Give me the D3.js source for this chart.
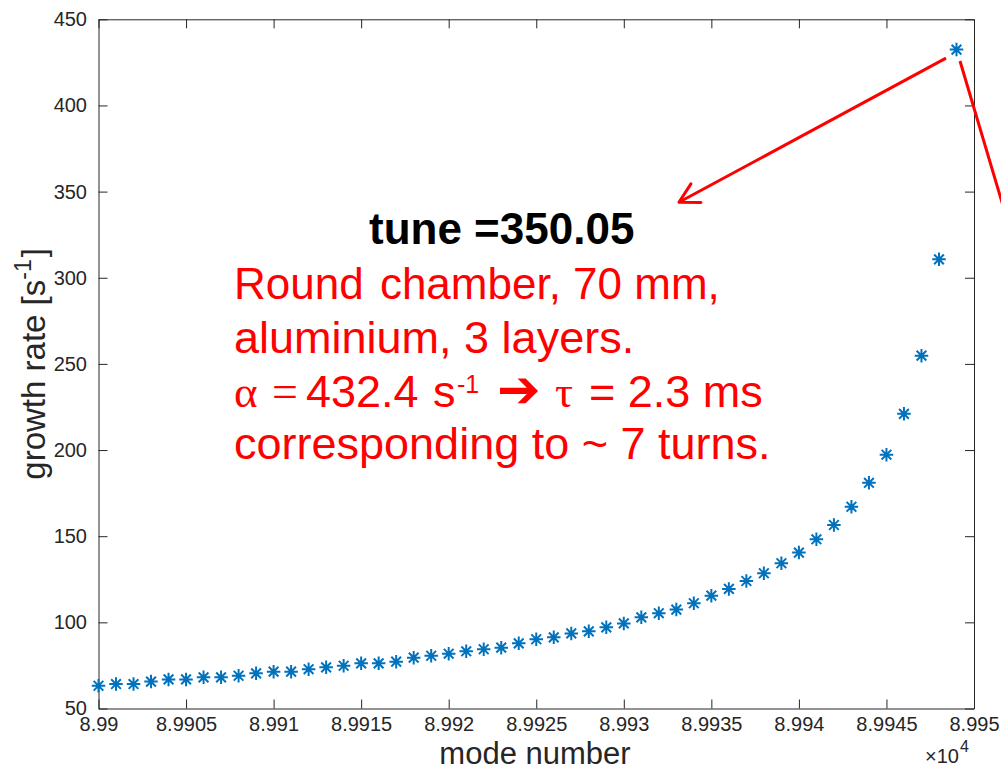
<!DOCTYPE html>
<html>
<head>
<meta charset="utf-8">
<script src="https://cdn.jsdelivr.net/npm/d3@7"></script>
<style>
  html, body { margin: 0; padding: 0; background: #fff; }
  svg { display: block; font-family: "Liberation Sans", Arial, Helvetica, sans-serif; }
</style>
</head>
<body>
<svg id="chart" width="1001" height="771"></svg>
<script>
// Mode numbers of the coupled-bunch modes shown (89900 ... 89949)
const modeNumbers = [
  89900, 89901, 89902, 89903, 89904, 89905, 89906, 89907, 89908, 89909,
  89910, 89911, 89912, 89913, 89914, 89915, 89916, 89917, 89918, 89919,
  89920, 89921, 89922, 89923, 89924, 89925, 89926, 89927, 89928, 89929,
  89930, 89931, 89932, 89933, 89934, 89935, 89936, 89937, 89938, 89939,
  89940, 89941, 89942, 89943, 89944, 89945, 89946, 89947, 89948, 89949
];

// Growth rate of each mode [1/s]
const growthRates = [
  63.2, 64.2, 64.2, 65.6, 66.9, 66.9, 68.1, 68.1, 69.0, 70.4,
  71.4, 71.4, 72.8, 73.9, 74.8, 76.2, 76.2, 77.2, 79.5, 80.6,
  81.8, 83.2, 84.4, 85.3, 87.8, 90.2, 91.3, 93.6, 94.8, 97.1,
  99.4, 102.9, 105.3, 107.4, 111.1, 115.5, 119.4, 124.0, 128.5, 134.3,
  140.5, 148.2, 156.5, 167.1, 181.0, 197.3, 221.0, 254.8, 310.7, 432.4
];

const xTickValues = [89900, 89905, 89910, 89915, 89920, 89925, 89930, 89935, 89940, 89945, 89950];
const xTickLabels = ["8.99", "8.9905", "8.991", "8.9915", "8.992", "8.9925", "8.993", "8.9935", "8.994", "8.9945", "8.995"];
const yTickValues = [50, 100, 150, 200, 250, 300, 350, 400, 450];

// Annotation arrows, in data units: [from mode, from rate] -> [to mode, to rate]
const arrowToText = [[89948.4, 427.5], [89933.15, 343.8]];
const arrowOffRight = [[89949.2, 425.8], [89952.1, 326.6]];

const svg = d3.select("#chart");
const plot = { left: 98.5, right: 974, top: 19.3, bottom: 708.5 };

const x = d3.scaleLinear().domain([89900, 89950]).range([plot.left, plot.right]);
const y = d3.scaleLinear().domain([50, 450]).range([plot.bottom, plot.top]);

const axisColor = "#262626";
const tickLen = 9;

// Box with inward ticks on all four sides
const gBottom = svg.append("g").attr("transform", `translate(0,${plot.bottom})`)
  .call(d3.axisBottom(x).tickValues(xTickValues)
    .tickFormat((d, i) => xTickLabels[i])
    .tickSizeInner(-tickLen).tickSizeOuter(0).tickPadding(8.5));
const gTop = svg.append("g").attr("transform", `translate(0,${plot.top})`)
  .call(d3.axisTop(x).tickValues(xTickValues).tickFormat("")
    .tickSizeInner(-tickLen).tickSizeOuter(0));
const gLeft = svg.append("g").attr("transform", `translate(${plot.left},0)`)
  .call(d3.axisLeft(y).tickValues(yTickValues)
    .tickSizeInner(-tickLen).tickSizeOuter(0).tickPadding(11.5));
const gRight = svg.append("g").attr("transform", `translate(${plot.right},0)`)
  .call(d3.axisRight(y).tickValues(yTickValues).tickFormat("")
    .tickSizeInner(-tickLen).tickSizeOuter(0));

[gBottom, gTop, gLeft, gRight].forEach(g => {
  g.select(".domain").attr("stroke", axisColor).attr("stroke-width", 1);
  g.selectAll(".tick line").attr("stroke", axisColor).attr("stroke-width", 1);
  g.selectAll(".tick text")
    .attr("fill", axisColor)
    .style("font-family", "'Liberation Sans', Arial, sans-serif")
    .style("font-size", "20px");
});

// Axis titles
svg.append("text")
  .attr("x", 535).attr("y", 764)
  .attr("text-anchor", "middle")
  .attr("fill", axisColor)
  .style("font-size", "31px")
  .text("mode number");

const yTitle = svg.append("text")
  .attr("transform", `translate(45,${(plot.top + plot.bottom) / 2}) rotate(-90)`)
  .attr("text-anchor", "middle")
  .attr("fill", axisColor)
  .style("font-size", "33px");
yTitle.append("tspan").text("growth rate [s");
yTitle.append("tspan").attr("dy", -14).style("font-size", "23px").text("-1");
yTitle.append("tspan").attr("dy", 14).attr("dx", 2).text("]");

// Exponent multiplier of the x axis
const expo = svg.append("text")
  .attr("x", 925).attr("y", 763)
  .attr("fill", axisColor)
  .style("font-size", "20px");
expo.append("tspan").text("\u00d710");
expo.append("tspan").attr("dy", -11).attr("dx", 1).style("font-size", "16px").text("4");

// Growth-rate markers (MATLAB-style asterisk)
const asterisk = {
  draw(ctx, size) {
    const r = Math.sqrt(size) / 2;
    const d = r * 0.72;
    ctx.moveTo(-r, 0); ctx.lineTo(r, 0);
    ctx.moveTo(0, -r); ctx.lineTo(0, r);
    ctx.moveTo(-d, -d); ctx.lineTo(d, d);
    ctx.moveTo(-d, d); ctx.lineTo(d, -d);
  }
};
const markerPath = d3.symbol().type(asterisk).size(13.5 * 13.5)();

svg.append("g").selectAll("path")
  .data(modeNumbers.map((m, i) => ({ m, g: growthRates[i] })))
  .join("path")
  .attr("transform", d => `translate(${x(d.m)},${y(d.g)})`)
  .attr("d", markerPath)
  .attr("fill", "none")
  .attr("stroke", "#0072BD")
  .attr("stroke-width", 2);

// Annotation arrows
const red = "#ff0000";
const line = d3.line().x(d => x(d[0])).y(d => y(d[1]));
svg.append("path").attr("d", line(arrowToText))
  .attr("fill", "none").attr("stroke", red).attr("stroke-width", 3);
svg.append("path").attr("d", line(arrowOffRight))
  .attr("fill", "none").attr("stroke", red).attr("stroke-width", 3);

// Open arrowhead at the text end of the first arrow
{
  const [x0, y0] = [x(arrowToText[0][0]), y(arrowToText[0][1])];
  const [x1, y1] = [x(arrowToText[1][0]), y(arrowToText[1][1])];
  const ang = Math.atan2(y1 - y0, x1 - x0);
  const len = 22, spread = 0.5;
  const b1 = [x1 - len * Math.cos(ang - spread), y1 - len * Math.sin(ang - spread)];
  const b2 = [x1 - len * Math.cos(ang + spread), y1 - len * Math.sin(ang + spread)];
  svg.append("path")
    .attr("d", `M${b1[0]},${b1[1]}L${x1},${y1}L${b2[0]},${b2[1]}`)
    .attr("fill", "none").attr("stroke", red).attr("stroke-width", 3)
    .attr("stroke-linecap", "round").attr("stroke-linejoin", "round");
}

// Text annotations
svg.append("text")
  .attr("x", 369).attr("y", 244)
  .attr("fill", "#000")
  .style("font-size", "44px").style("font-weight", "bold")
  .text("tune =350.05");

const notes = svg.append("g")
  .attr("fill", red)
  .style("font-size", "45px");

const l1 = notes.append("text").attr("x", 234).attr("y", 299).style("font-size", "44px");
l1.append("tspan").text("Round");
l1.append("tspan").attr("dx", 4).text(" chamber, 70 mm,");

notes.append("text").attr("x", 234).attr("y", 353)
  .text("aluminium, 3 layers.");

const serif = "'Liberation Serif', 'DejaVu Serif', serif";
const l3 = notes.append("text").attr("y", 407);
l3.append("tspan").attr("x", 234).style("font-family", serif).text("\u03b1");
l3.append("tspan").attr("x", 272).style("font-family", serif).style("font-size", "46px").text("=");
l3.append("tspan").attr("x", 306).text("432.4");
l3.append("tspan").attr("x", 433).text("s");
l3.append("tspan").attr("x", 457).attr("dy", -14).style("font-size", "25px").text("-1");
l3.append("tspan").attr("x", 497).attr("dy", 14)
  .style("font-family", "'DejaVu Sans', sans-serif").style("font-weight", "bold").style("font-size", "52px")
  .text("\u2794");
l3.append("tspan").attr("x", 555).style("font-family", serif).text("\u03c4");
l3.append("tspan").attr("x", 589).text("= 2.3 ms");

notes.append("text").attr("x", 234).attr("y", 459)
  .text("corresponding to ~ 7 turns.");
</script>
</body>
</html>
